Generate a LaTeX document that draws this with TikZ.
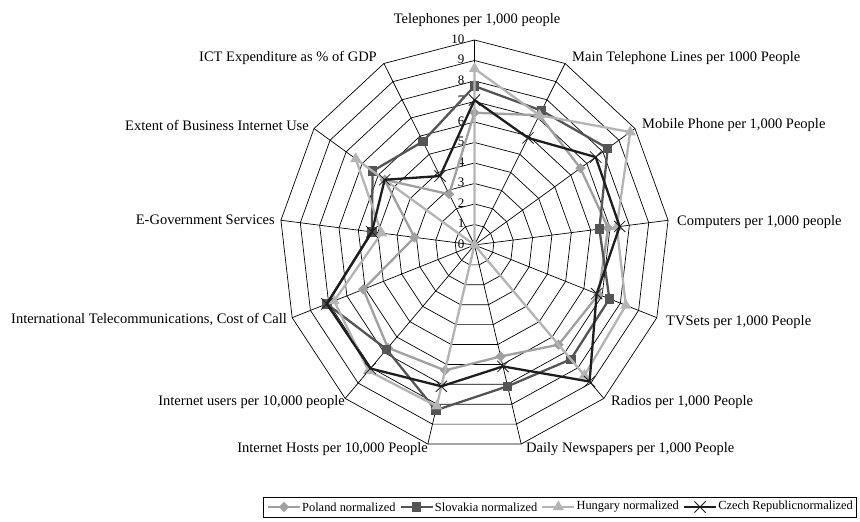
\documentclass[tikz,border=0pt]{standalone}
\usepackage{fontspec}
\setmainfont{Liberation Serif}
\usetikzlibrary{calc,shapes.geometric,shapes.misc}
\definecolor{polc}{HTML}{A0A0A0}
\definecolor{slkc}{HTML}{555555}
\definecolor{hunc}{HTML}{B4B4B4}
\definecolor{czc}{HTML}{1E1E1E}
\begin{document}
\begin{tikzpicture}[x=1pt,y=1pt,
  gridline/.style={black, line width=0.7pt},
  ser/.style={line width=2.3pt, line join=round},
  axlab/.style={font=\fontsize{14.5}{16}\selectfont, inner sep=0pt},
  ticklab/.style={font=\fontsize{13}{15}\selectfont, inner sep=0pt, anchor=east},
  legtext/.style={font=\fontsize{12.4}{14}\selectfont, inner sep=1pt, anchor=west},
  dmark/.style={diamond, fill=polc, inner sep=0pt, minimum width=10.5pt, minimum height=10.5pt},
  smark/.style={rectangle, fill=slkc, inner sep=0pt, minimum size=9.5pt},
  tmark/.style={regular polygon, regular polygon sides=3, fill=hunc, inner sep=0pt, minimum size=13pt},
  xmark/.style={cross out, draw=czc, line width=0.8pt, inner sep=0pt, minimum size=10.5pt}
]
\useasboundingbox (0,0) rectangle (860,522);
\fill[white] (0,0) rectangle (860,522);

\begin{scope}[shift={(474.5pt,277pt)}, x=19.5pt, y=20.5pt]
  \coordinate (O) at (0,0);
  % rings
  \foreach \r in {1,...,10}
    \draw[gridline] (90:\r) \foreach \k in {1,...,12} { -- ({90-\k*360/13}:\r) } -- cycle;
  % spokes
  \foreach \k in {0,...,12} {
    \coordinate (v\k) at ({90-\k*360/13}:10);
    \draw[gridline] (O) -- (v\k);
  }
  % tick labels
  \foreach \t in {0,...,10}
    \node[ticklab] (tk\t) at ([xshift=-10pt,yshift=1pt]90:\t) {\t};

  % data points
  \foreach \v [count=\k from 0] in {6.45,7.15,6.6,6.9,6.8,6.5,5.6,6.3,6.7,6.1,3.1,5.6,2.8}
    \coordinate (pl\k) at ({90-\k*360/13}:\v);
  \foreach \v [count=\k from 0] in {7.75,7.4,8.3,6.45,7.4,7.45,7.1,8.3,6.8,8.1,5.3,6.35,5.7}
    \coordinate (sk\k) at ({90-\k*360/13}:\v);
  \foreach \v [count=\k from 0] in {8.6,7.15,9.7,7.35,8.3,8.5,0,8.1,8.2,7.7,4.8,7.4,0}
    \coordinate (hu\k) at ({90-\k*360/13}:\v);
  \foreach \v [count=\k from 0] in {7.07,5.9,7.55,7.5,6.7,8.9,6.1,7.1,8.05,8.1,5.3,5.6,3.8}
    \coordinate (cz\k) at ({90-\k*360/13}:\v);

  % Poland
  \draw[ser, polc] (pl0) \foreach \k in {1,...,12} { -- (pl\k) } -- cycle;
  \foreach \k in {0,...,12} \node[dmark] (mpl\k) at (pl\k) {};
  % Slovakia
  \draw[ser, slkc] (sk0) \foreach \k in {1,...,12} { -- (sk\k) } -- cycle;
  \foreach \k in {0,...,12} \node[smark] (msk\k) at (sk\k) {};
  % Hungary
  \draw[ser, hunc] (hu0) \foreach \k in {1,...,12} { -- (hu\k) } -- cycle;
  \foreach \k in {0,...,12} \node[tmark] (mhu\k) at (hu\k) {};
  % Czech Republic
  \draw[ser, czc] (cz0) \foreach \k in {1,...,12} { -- (cz\k) } -- cycle;
  \foreach \k in {0,...,12} \node[xmark] (mcz\k) at (cz\k) {};
\end{scope}

% axis labels
\node[axlab, anchor=center] (lab0) at (477,502) {Telephones per 1,000 people};
\node[axlab, anchor=west] (lab1) at (572,464) {Main Telephone Lines per 1000 People};
\node[axlab, anchor=west] (lab2) at (642,397) {Mobile Phone per 1,000 People};
\node[axlab, anchor=west] (lab3) at (677,300) {Computers per 1,000 people};
\node[axlab, anchor=west] (lab4) at (666,200) {TVSets per 1,000 People};
\node[axlab, anchor=west] (lab5) at (611,120) {Radios per 1,000 People};
\node[axlab, anchor=west] (lab6) at (526,73) {Daily Newspapers per 1,000 People};
\node[axlab, anchor=east] (lab7) at (428,73) {Internet Hosts per 10,000 People};
\node[axlab, anchor=east] (lab8) at (345,120) {Internet users per 10,000 people};
\node[axlab, anchor=east] (lab9) at (287,202) {International Telecommunications, Cost of Call};
\node[axlab, anchor=east] (lab10) at (275,302) {E-Government Services};
\node[axlab, anchor=east] (lab11) at (309,397) {Extent of Business Internet Use};
\node[axlab, anchor=east] (lab12) at (377,464) {ICT Expenditure as \% of GDP};

% legend
\draw[line width=0.8pt] (263,5) rectangle (856,25);
\coordinate (l1a) at (268,15);
\coordinate (l1b) at ([xshift=32pt]l1a);
\draw[ser, polc, line width=2pt] (l1a) -- (l1b);
\node[dmark] (lm1) at ($(l1a)!0.5!(l1b)$) {};
\node[legtext] (lt1) at ([xshift=1pt]l1b) {Poland normalized};

\coordinate (l2a) at ([xshift=4pt]lt1.east);
\coordinate (l2b) at ([xshift=32pt]l2a);
\draw[ser, slkc, line width=2pt] (l2a) -- (l2b);
\node[smark] (lm2) at ($(l2a)!0.5!(l2b)$) {};
\node[legtext] (lt2) at ([xshift=1pt]l2b) {Slovakia normalized};

\coordinate (l3a) at ([xshift=4pt]lt2.east);
\coordinate (l3b) at ([xshift=32pt]l3a);
\draw[ser, hunc, line width=2pt] (l3a) -- (l3b);
\node[tmark] (lm3) at ($(l3a)!0.5!(l3b)$) {};
\node[legtext] (lt3) at ([xshift=1pt]l3b) {Hungary normalized};

\coordinate (l4a) at ([xshift=4pt]lt3.east);
\coordinate (l4b) at ([xshift=32pt]l4a);
\draw[ser, czc, line width=2pt] (l4a) -- (l4b);
\node[xmark] (lm4) at ($(l4a)!0.5!(l4b)$) {};
\node[legtext] (lt4) at ([xshift=1pt]l4b) {Czech Republicnormalized};
\end{tikzpicture}
\end{document}
